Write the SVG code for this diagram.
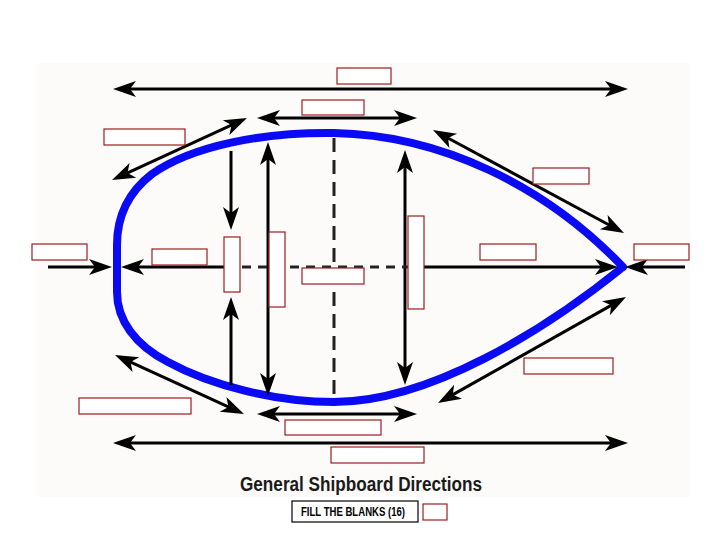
<svg xmlns="http://www.w3.org/2000/svg" width="720" height="540" viewBox="0 0 720 540">
<style>
.ln{stroke:#000;stroke-width:3;fill:none}
.dash{stroke:#222;stroke-width:3;fill:none}
.blank{fill:#fff;stroke:#9e1c1c;stroke-width:1.2}
.hull{stroke:#0a0af5;stroke-width:8;fill:none;stroke-linejoin:round;stroke-linecap:round}
.title{font-family:"Liberation Sans",Arial,sans-serif;font-weight:bold;font-size:20px;fill:#1a1a1a}
.note{font-family:"Liberation Sans",Arial,sans-serif;font-weight:bold;font-size:12px;fill:#000}
</style>
<defs>
<marker id="ah" viewBox="-20 -10 32 20" markerWidth="32" markerHeight="20" refX="0" refY="0" orient="auto-start-reverse" markerUnits="userSpaceOnUse">
<path d="M10,0 L-13,-8 L-7,0 L-13,8 Z" fill="#000"/>
</marker>
</defs>
<rect x="0" y="0" width="720" height="540" fill="#fff"/>
<rect x="37" y="63" width="653" height="434" fill="#fcfbf9"/>

<g id="hull">
<path class="hull" d="M623,267 C545,185 440,135 334,133 C262,132 192,146 152,174 C126,194 117,220 117,245 L117,292 C117,320 135,345 168,362 C210,385 275,402 334,402 C430,402 545,330 623,267"/>
</g>

<g id="connectors">
<line class="ln" x1="123" y1="89" x2="618" y2="89" marker-start="url(#ah)" marker-end="url(#ah)"/>
<line class="ln" x1="267" y1="118" x2="407" y2="118" marker-start="url(#ah)" marker-end="url(#ah)"/>
<line class="ln" x1="121.1" y1="175.8" x2="237.9" y2="122.2" marker-start="url(#ah)" marker-end="url(#ah)"/>
<line class="ln" x1="441.8" y1="134.7" x2="615.2" y2="228.3" marker-start="url(#ah)" marker-end="url(#ah)"/>
<line class="ln" x1="231" y1="151" x2="231" y2="220" marker-end="url(#ah)"/>
<line class="ln" x1="268" y1="152" x2="268" y2="386" marker-start="url(#ah)" marker-end="url(#ah)"/>
<line class="ln" x1="231" y1="385" x2="231" y2="307" marker-end="url(#ah)"/>
<line class="ln" x1="405" y1="160" x2="405" y2="375" marker-start="url(#ah)" marker-end="url(#ah)"/>
<line class="dash" x1="334" y1="138" x2="334" y2="398" stroke-dasharray="14 8"/>
<line class="ln" x1="48" y1="267" x2="102" y2="267" marker-end="url(#ah)"/>
<line class="ln" x1="131" y1="267" x2="226" y2="267" marker-start="url(#ah)"/>
<line class="dash" x1="226" y1="267" x2="420" y2="267" stroke-dasharray="9 7"/>
<line class="ln" x1="420" y1="267" x2="608" y2="267" marker-end="url(#ah)"/>
<line class="ln" x1="685" y1="267" x2="635" y2="267" marker-end="url(#ah)"/>
<line class="ln" x1="124.1" y1="359.2" x2="234.9" y2="409.8" marker-start="url(#ah)" marker-end="url(#ah)"/>
<line class="ln" x1="267" y1="414" x2="407" y2="414" marker-start="url(#ah)" marker-end="url(#ah)"/>
<line class="ln" x1="123" y1="443" x2="618" y2="443" marker-start="url(#ah)" marker-end="url(#ah)"/>
<line class="ln" x1="446.7" y1="398.1" x2="617.3" y2="301.9" marker-start="url(#ah)" marker-end="url(#ah)"/>
</g>

<g id="blank1"><rect class="blank" x="337" y="68" width="54" height="16"/></g>
<g id="blank2"><rect class="blank" x="302" y="100" width="62" height="15"/></g>
<g id="blank3"><rect class="blank" x="104" y="129" width="81" height="16"/></g>
<g id="blank4"><rect class="blank" x="533" y="168" width="56" height="16"/></g>
<g id="blank5"><rect class="blank" x="32" y="244" width="55" height="16"/></g>
<g id="blank6"><rect class="blank" x="152" y="249" width="55" height="16"/></g>
<g id="blank7"><rect class="blank" x="224" y="237" width="16" height="55"/></g>
<g id="blank8"><rect class="blank" x="269" y="232" width="16" height="75"/></g>
<g id="blank9"><rect class="blank" x="302" y="268" width="62" height="16"/></g>
<g id="blank10"><rect class="blank" x="408" y="216" width="16" height="93"/></g>
<g id="blank11"><rect class="blank" x="480" y="244" width="56" height="16"/></g>
<g id="blank12"><rect class="blank" x="634" y="244" width="55" height="16"/></g>
<g id="blank13"><rect class="blank" x="79" y="398" width="112" height="16"/></g>
<g id="blank14"><rect class="blank" x="524" y="358" width="89" height="16"/></g>
<g id="blank15"><rect class="blank" x="285" y="420" width="96" height="15"/></g>
<g id="blank16"><rect class="blank" x="331" y="447" width="93" height="16"/></g>

<g id="title">
<text class="title" x="240" y="491" textLength="242" lengthAdjust="spacingAndGlyphs">General Shipboard Directions</text>
</g>
<g id="note">
<rect x="292" y="501" width="126" height="21" fill="#fff" stroke="#000" stroke-width="1.2"/>
<text class="note" x="301" y="516" textLength="104" lengthAdjust="spacingAndGlyphs">FILL THE BLANKS (16)</text>
</g>
<g id="blank17"><rect class="blank" x="423" y="504" width="24" height="16"/></g>
</svg>
